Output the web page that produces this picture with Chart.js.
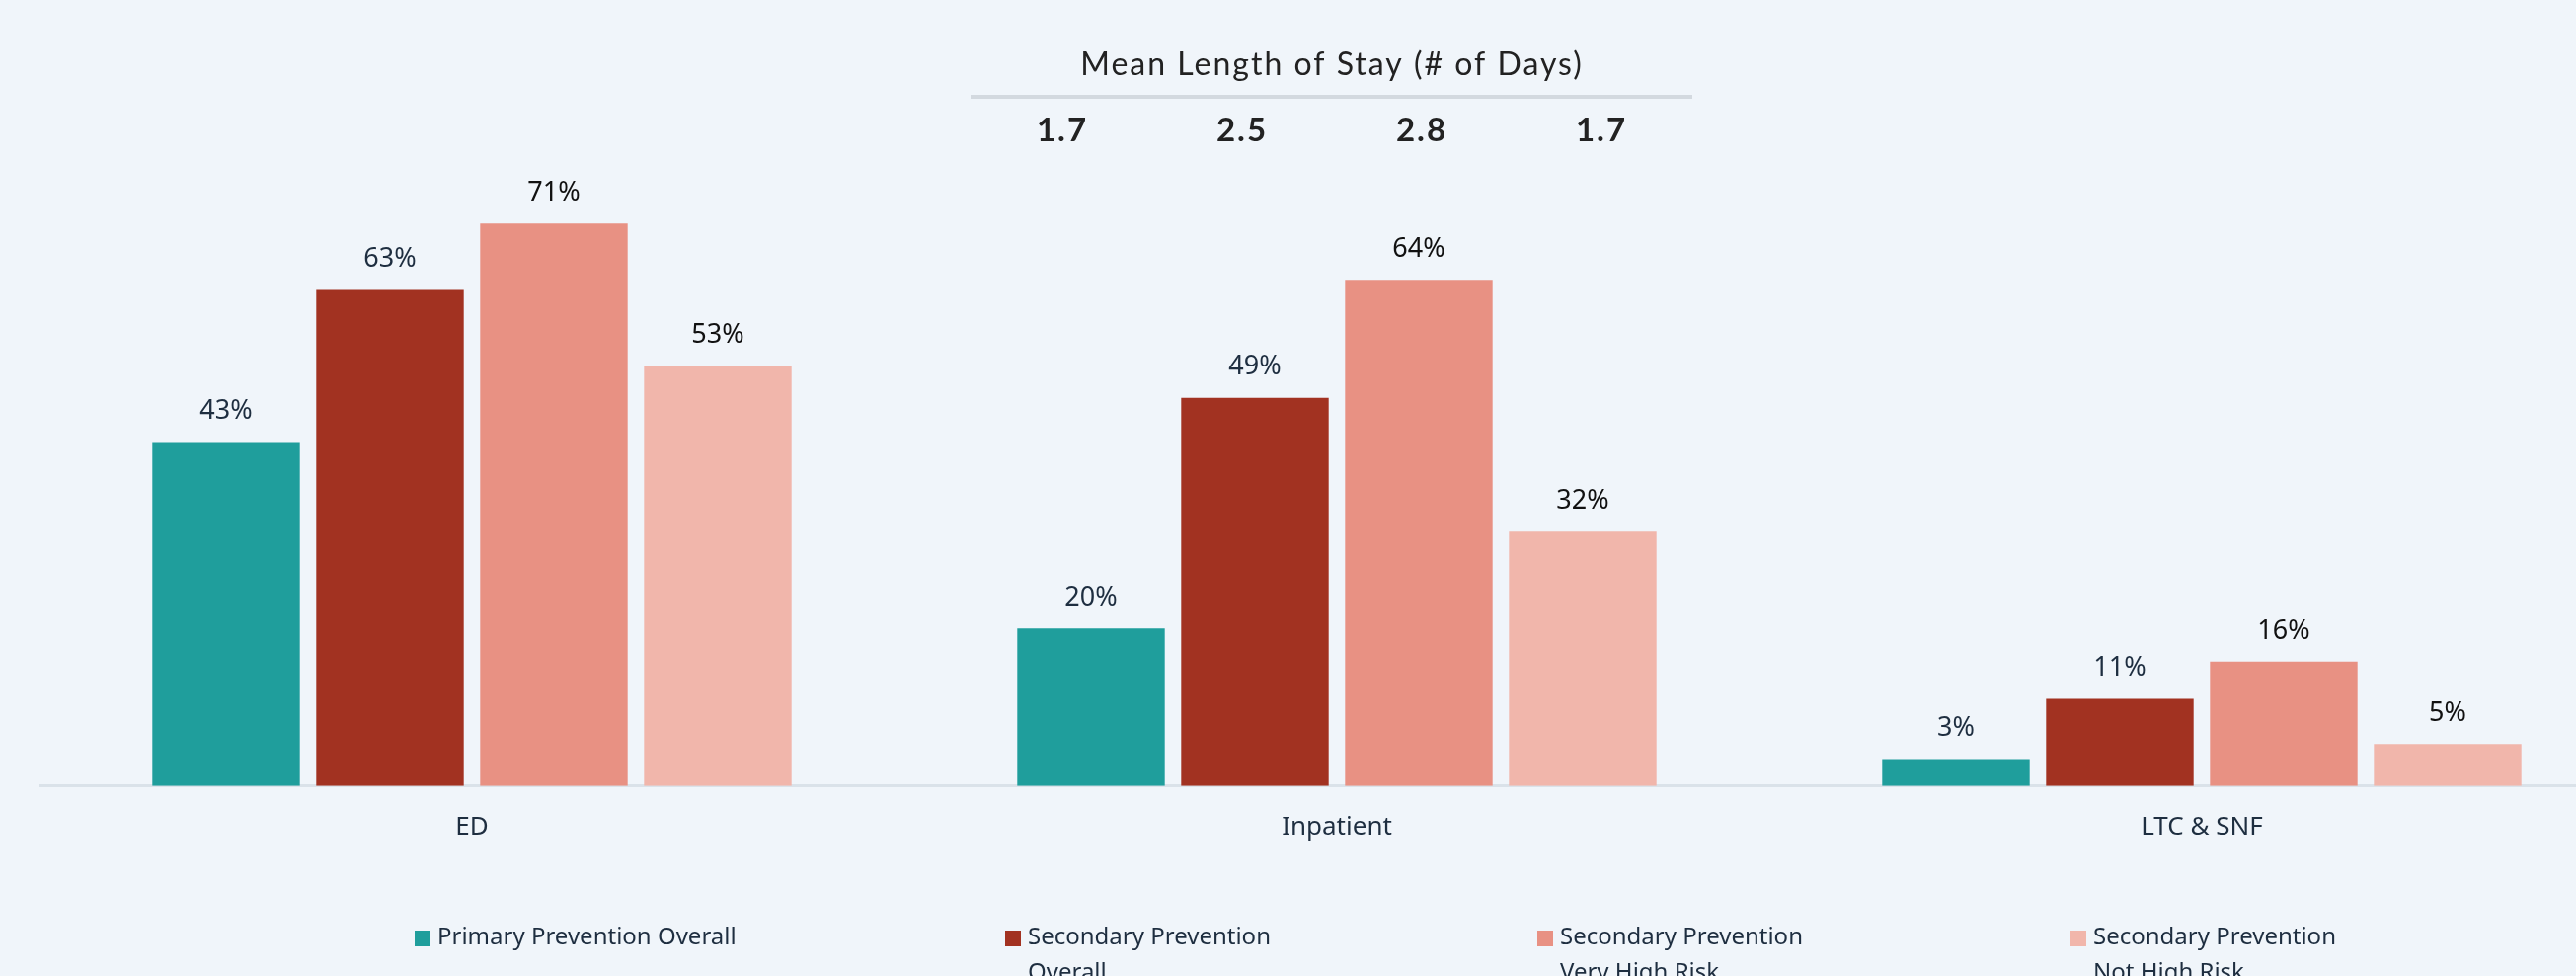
<!DOCTYPE html>
<html>
<head>
<meta charset="utf-8">
<script src="https://cdn.jsdelivr.net/npm/chart.js@4/dist/chart.umd.min.js"></script>
<style>
  html, body { margin: 0; padding: 0; background: #f0f5fa; overflow: hidden; }
  .chart-wrap { width: 2670px; height: 988px; position: relative; }
</style>
</head>
<body>
<div class="chart-wrap"><canvas id="stayChart"></canvas></div>
<script>
const categories = ['ED', 'Inpatient', 'LTC & SNF'];
const seriesNames = [
  ['Primary Prevention Overall'],
  ['Secondary Prevention', 'Overall'],
  ['Secondary Prevention', 'Very High Risk'],
  ['Secondary Prevention', 'Not High Risk'],
];
const primaryOverall = [43.4, 19.9, 3.4];
const secondaryOverall = [62.6, 49, 11];
const secondaryVeryHigh = [71, 63.9, 15.7];
const secondaryNotHigh = [53, 32.1, 5.3];
const stayTitle = 'Mean Length of Stay (# of Days)';
const stayDays = [1.7, 2.5, 2.8, 1.7];

const colors = ['#1f9e9c', '#a23221', '#e89183', '#f1b6ab'];
const labelColors = ['#1e2e40', '#1e2e40', '#111111', '#111111'];
const navy = '#1e2e40';

const valueLabels = {
  id: 'valueLabels',
  afterDatasetsDraw(chart) {
    const ctx = chart.ctx;
    ctx.save();
    ctx.font = '27px "Noto Sans"';
    ctx.textAlign = 'center';
    ctx.textBaseline = 'middle';
    chart.data.datasets.forEach((ds, i) => {
      chart.getDatasetMeta(i).data.forEach((bar, j) => {
        ctx.fillStyle = labelColors[i];
        ctx.fillText(Math.round(ds.data[j]) + '%', bar.x, bar.y - 31);
      });
    });
    ctx.restore();
  },
};

const stayHeader = {
  id: 'stayHeader',
  afterDraw(chart) {
    const ctx = chart.ctx;
    const cx = 1348;
    ctx.save();
    ctx.textAlign = 'center';
    ctx.textBaseline = 'middle';
    ctx.fillStyle = '#222222';
    ctx.font = '32px Lato';
    ctx.letterSpacing = '2px';
    ctx.fillText(stayTitle, cx + 1, 66);
    ctx.strokeStyle = '#d3d9df';
    ctx.lineWidth = 4;
    ctx.beginPath();
    ctx.moveTo(983, 98);
    ctx.lineTo(1714, 98);
    ctx.stroke();
    ctx.font = 'bold 33px Lato';
    ctx.letterSpacing = '2px';
    stayDays.forEach((d, i) => {
      ctx.fillText(d.toFixed(1), cx + 1 + (i - 1.5) * 182, 132);
    });
    ctx.restore();
  },
};

const legendX = [420, 1018, 1557, 2097];
const customLegend = {
  id: 'customLegend',
  afterDraw(chart) {
    const ctx = chart.ctx;
    ctx.save();
    ctx.font = '24px "Noto Sans"';
    ctx.textBaseline = 'middle';
    chart.data.datasets.forEach((ds, i) => {
      const x = legendX[i];
      ctx.fillStyle = ds.backgroundColor;
      ctx.fillRect(x, 942, 16, 16);
      ctx.fillStyle = navy;
      seriesNames[i].forEach((line, k) => {
        ctx.fillText(line, x + 23, 949 + k * 36);
      });
    });
    ctx.restore();
  },
};

const series = [primaryOverall, secondaryOverall, secondaryVeryHigh, secondaryNotHigh];

new Chart(document.getElementById('stayChart'), {
  type: 'bar',
  data: {
    labels: categories,
    datasets: series.map((values, i) => ({
      label: seriesNames[i].join(' '),
      data: values,
      backgroundColor: colors[i],
      borderWidth: 0,
      barPercentage: 0.9,
      categoryPercentage: 0.758,
    })),
  },
  options: {
    responsive: true,
    maintainAspectRatio: false,
    animation: false,
    layout: {
      padding: { left: 40, right: 2, top: 154, bottom: 109 },
    },
    plugins: {
      legend: { display: false },
      tooltip: { enabled: false },
    },
    scales: {
      x: {
        grid: { display: false, drawTicks: false },
        border: { display: true, color: '#dae2e9', width: 3 },
        ticks: {
          color: navy,
          padding: 26,
          font: { family: 'Noto Sans', size: 26 },
        },
      },
      y: {
        display: false,
        min: 0,
        max: 80,
      },
    },
  },
  plugins: [valueLabels, stayHeader, customLegend],
});
</script>
</body>
</html>
